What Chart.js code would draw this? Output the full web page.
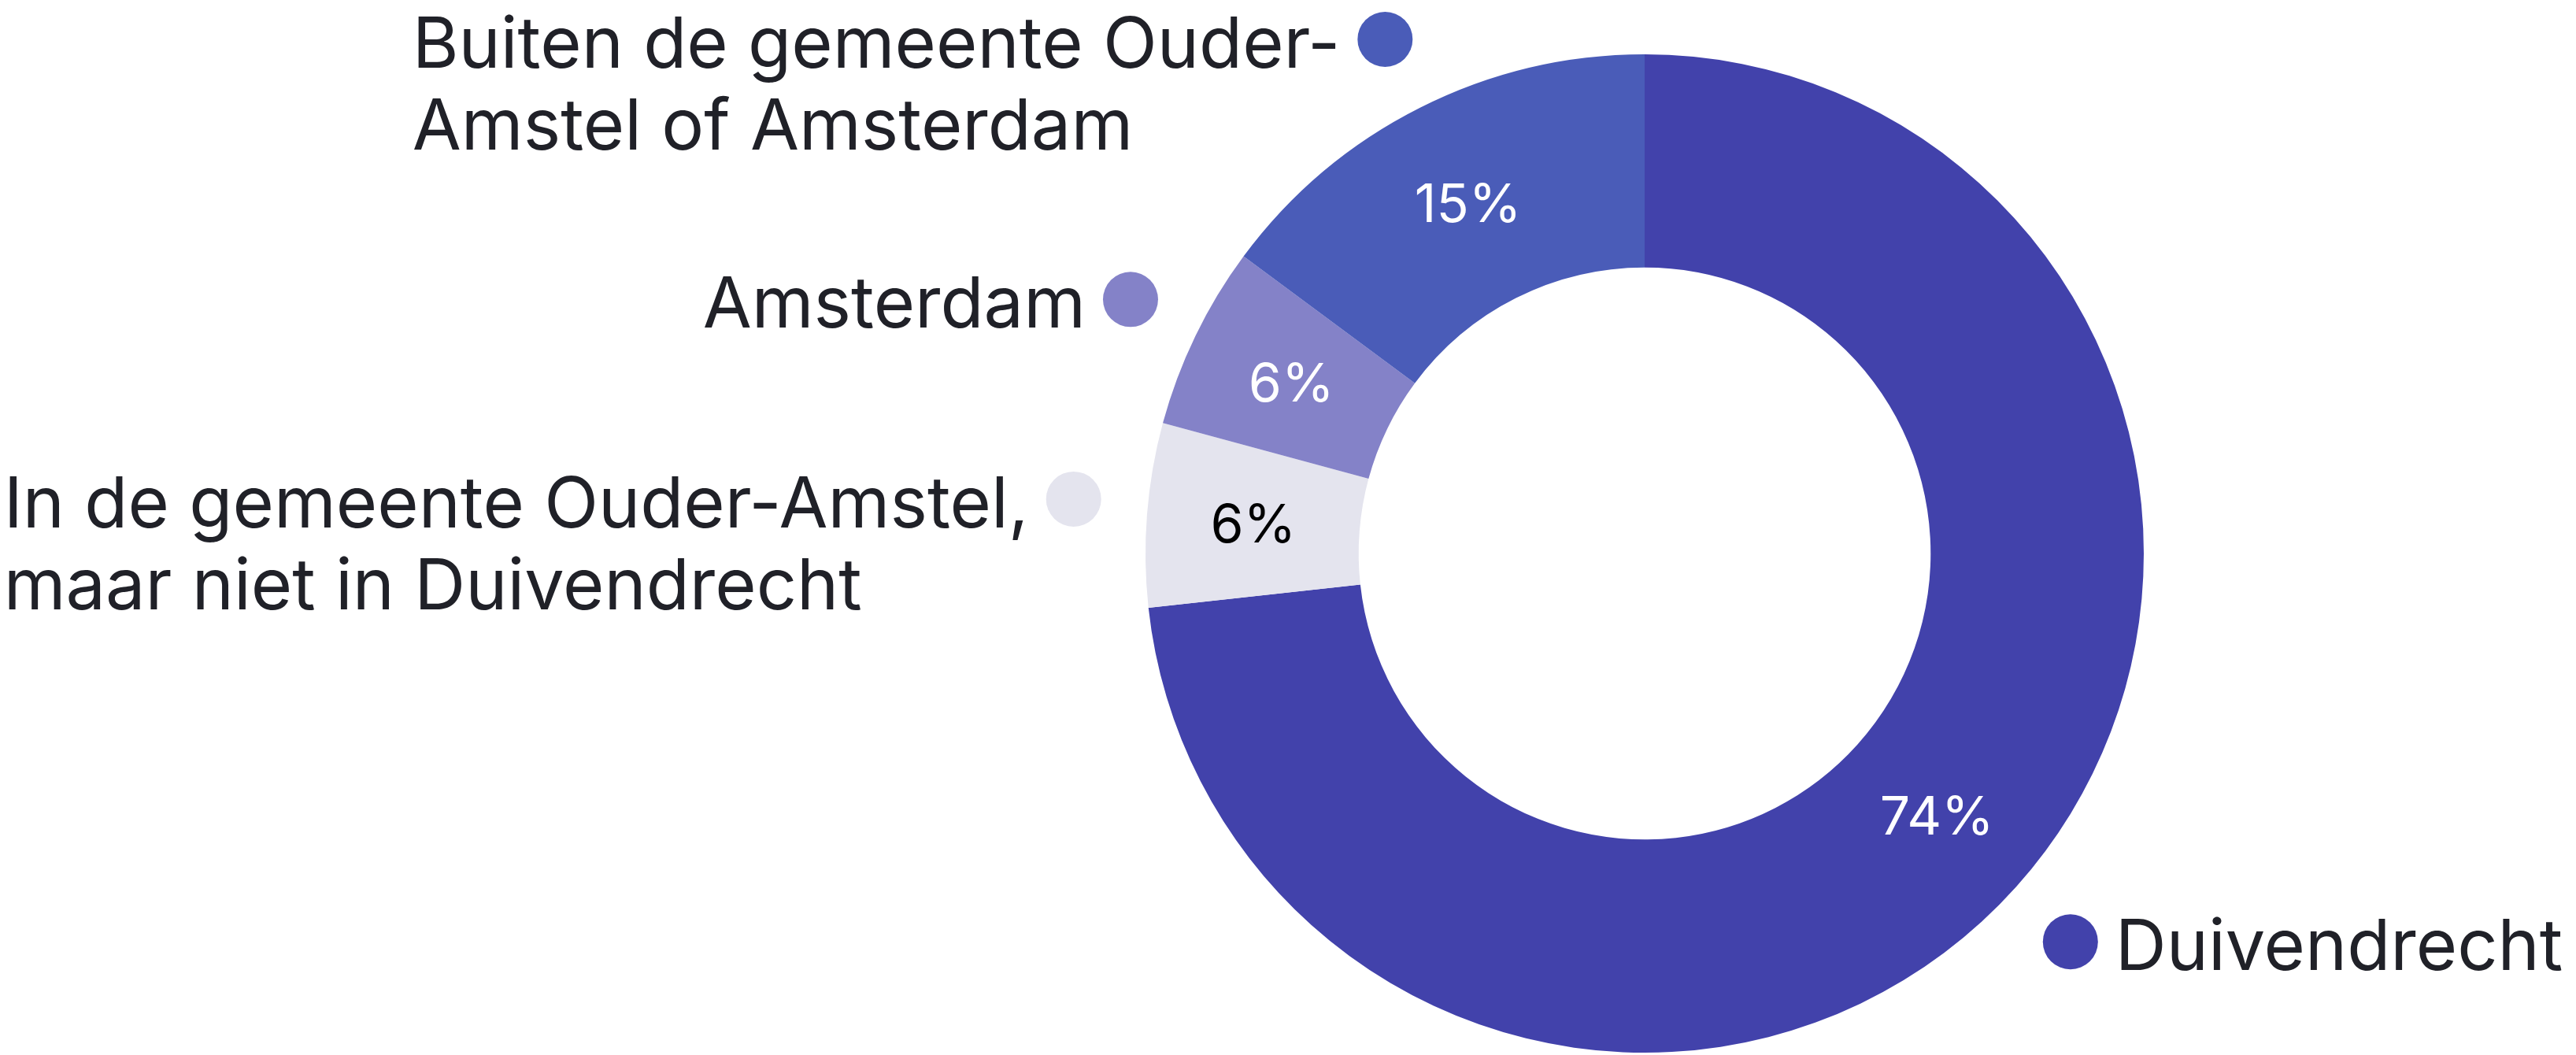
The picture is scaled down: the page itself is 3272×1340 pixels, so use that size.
<!DOCTYPE html>
<html>
<head>
<meta charset="utf-8">
<script src="https://cdn.jsdelivr.net/npm/chart.js@4"></script>
<style>
  html, body { margin: 0; padding: 0; background: #ffffff; }
  canvas { display: block; }
</style>
</head>
<body>
<canvas id="graficoWoonplaats" width="3272" height="1340"></canvas>
<script>
// Dati del grafico
var categorie = ['Duivendrecht', 'In de gemeente Ouder-Amstel, maar niet in Duivendrecht', 'Amsterdam', 'Buiten de gemeente Ouder-Amstel of Amsterdam'];
var percentuali = [74, 6, 6, 15];
var righeEtichette = [
  ['Duivendrecht'],
  ['In de gemeente Ouder-Amstel,', 'maar niet in Duivendrecht'],
  ['Amsterdam'],
  ['Buiten de gemeente Ouder-', 'Amstel of Amsterdam']
];
var colori = ['#4242AB', '#E4E4EE', '#8482C8', '#4A5CB8'];
var coloriValori = ['#ffffff', '#000000', '#ffffff', '#ffffff'];

// Posizione delle etichette esterne (pallino), in frazioni del raggio esterno
var posizioneEtichette = [
  { dx: 0.853, dy: 0.778, lato: 'destra' },
  { dx: -1.144, dy: -0.109, lato: 'sinistra' },
  { dx: -1.030, dy: -0.509, lato: 'sinistra' },
  { dx: -0.520, dy: -1.030, lato: 'sinistra' }
];

var fontTesto = '90px Inter, "Noto Sans", sans-serif';
var fontValori = '68px Inter, "Noto Sans", sans-serif';
var raggioPallino = 35;
var spazio = 22;
var interlinea = 104;

// Plugin per disegnare valori ed etichette
var pluginEtichette = {
  id: 'etichette',
  afterDraw: function(chart) {
    var ctx = chart.ctx;
    var meta = chart.getDatasetMeta(0);
    ctx.save();

    meta.data.forEach(function(arco, i) {
      // valore dentro la fetta
      var centro = arco.tooltipPosition();
      ctx.font = fontValori;
      ctx.fillStyle = coloriValori[i];
      ctx.textAlign = 'center';
      ctx.textBaseline = 'alphabetic';
      ctx.fillText(percentuali[i] + '%', centro.x, centro.y + 68 * 0.36);

      // pallino + testo fuori
      var pos = posizioneEtichette[i];
      var px = arco.x + pos.dx * arco.outerRadius;
      var py = arco.y + pos.dy * arco.outerRadius;
      ctx.beginPath();
      ctx.arc(px, py, raggioPallino, 0, Math.PI * 2);
      ctx.fillStyle = colori[i];
      ctx.fill();

      ctx.font = fontTesto;
      ctx.fillStyle = '#202128';
      ctx.textAlign = 'left';
      var righe = righeEtichette[i];
      var larghezza = 0;
      righe.forEach(function(r) {
        larghezza = Math.max(larghezza, ctx.measureText(r).width);
      });
      var xTesto = pos.lato === 'destra'
        ? px + raggioPallino + spazio
        : px - raggioPallino - spazio - larghezza;
      righe.forEach(function(r, k) {
        ctx.fillText(r, xTesto, py + 36 + k * interlinea);
      });
    });

    ctx.restore();
  }
};

var canvas = document.getElementById('graficoWoonplaats').getContext('2d');

var grafico = new Chart(canvas, {
  type: 'doughnut',
  data: {
    labels: categorie,
    datasets: [{
      data: percentuali,
      backgroundColor: colori,
      borderWidth: 0
    }]
  },
  options: {
    responsive: false,
    devicePixelRatio: 1,
    animation: false,
    cutout: '57.3%',
    layout: {
      padding: { left: 1455, right: 549, top: 69, bottom: 3 }
    },
    plugins: {
      legend: { display: false },
      tooltip: { enabled: false }
    }
  },
  plugins: [pluginEtichette]
});
</script>
</body>
</html>
